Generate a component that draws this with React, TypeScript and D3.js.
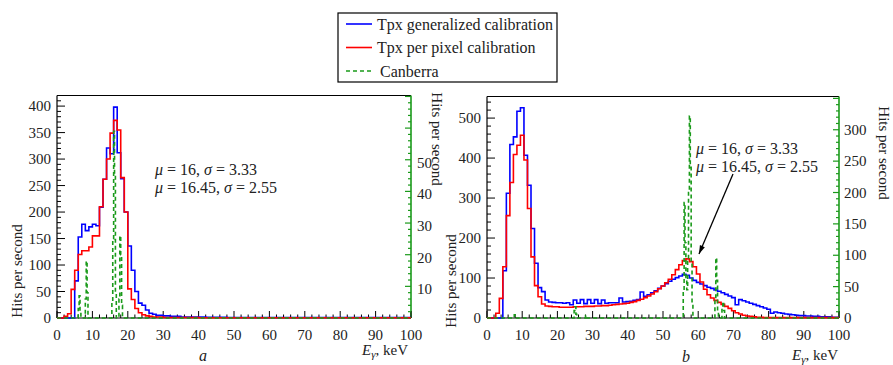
import React from "react";
import * as d3 from "d3";

// ---- panel a: 1 keV bins starting at 0 keV ----
const generalizedA = [
  0, 0, 0, 0, 0, 70, 153, 177, 165, 172, 177, 174, 209, 262, 321, 310, 398, 312, 263, 200,
  136, 90, 50, 28, 24, 15, 9, 7, 5, 5, 4, 4, 3, 3, 3, 2, 2, 2, 2, 2,
  2, 2, 1.5, 1.5, 1.5, 1.5, 1.5, 1.5, 1, 1, 1, 1, 1, 1, 1, 1, 1, 1, 1, 1,
  1, 1, 1, 1, 1, 1, 1, 1, 1, 1, 1, 1, 1, 1, 1, 1, 1, 1, 1, 1,
  1, 1, 1, 1, 1, 1, 1, 1, 1, 1, 1, 1, 1, 1, 1, 1, 1, 1, 1, 1,
];
const perPixelA = [
  0, 0, 3, 8, 54, 90, 120, 127, 127, 134, 155, 155, 210, 262, 300, 349, 373, 355, 265, 200,
  55, 35, 18, 10, 6, 4, 3, 2, 2, 2, 1, 1, 1, 1, 1, 1, 1, 1, 1, 1,
  0.5, 0.5, 0.5, 0.5, 0.5, 0.5, 0.5, 0.5, 0.5, 0.5, 0.5, 0.5, 0.5, 0.5, 0.5, 0.5, 0.5, 0.5, 0.5, 0.5,
  0.5, 0.5, 0.5, 0.5, 0.5, 0.5, 0.5, 0.5, 0.5, 0.5, 0.5, 0.5, 0.5, 0.5, 0.5, 0.5, 0.5, 0.5, 0.5, 0.5,
  0.5, 0.5, 0.5, 0.5, 0.5, 0.5, 0.5, 0.5, 0.5, 0.5, 0.5, 0.5, 0.5, 0.5, 0.5, 0.5, 0.5, 0.5, 0.5, 0.5,
];
// Canberra: 0.25 keV bins, [lower edge keV, hits/s], all other bins empty
const canberraA: [number, number][] = [
  [6.0, 3], [6.25, 7], [6.5, 2],
  [8.0, 6], [8.25, 18], [8.5, 8],
  [15.5, 5], [15.75, 25], [16.0, 59], [16.25, 45], [16.5, 8],
  [17.5, 6], [17.75, 26], [18.0, 20], [18.25, 4],
];

// ---- panel b: 1 keV bins centred on integer keV ----
const generalizedB = [
  0, 0, 0, 0, 0, 118, 312, 434, 453, 517, 526, 407, 332, 224, 137, 76, 66, 45, 40, 39,
  38, 38, 37, 38, 33, 45, 37, 46, 36, 46, 37, 46, 36, 45, 37, 38, 38, 38, 50, 40,
  41, 42, 44, 46, 65, 54, 58, 63, 68, 74, 80, 86, 92, 97, 101, 105, 109, 107, 100, 94,
  89, 85, 81, 77, 74, 70, 67, 63, 59, 55, 51, 33, 46, 43, 40, 37, 34, 31, 28, 25,
  22, 12, 15, 13, 12, 10, 9, 8, 7, 6, 6, 5, 5, 4, 4, 3, 3, 3, 2, 2, 2,
];
const perPixelB = [
  0, 0, 0, 12, 49, 128, 256, 339, 409, 432, 457, 395, 274, 153, 81, 53, 35, 30, 29, 28,
  28, 27, 27, 27, 27, 28, 28, 28, 29, 29, 29, 30, 30, 31, 31, 32, 33, 34, 35, 36,
  37, 39, 41, 44, 47, 51, 55, 60, 66, 73, 80, 88, 97, 108, 121, 133, 144, 148, 141, 128,
  110, 90, 72, 58, 50, 44, 39, 34, 29, 24, 18, 13, 10, 7, 5, 4, 3, 2, 2, 1,
  1, 1, 1, 1, 1, 1, 1, 1, 1, 1, 1, 1, 1, 1, 1, 1, 1, 1, 1, 1, 1,
];
const canberraB: [number, number][] = [
  [7.75, 5],
  [24.75, 12], [25.0, 18], [25.25, 6],
  [28.0, 4],
  [55.75, 40], [56.0, 184], [56.25, 120], [56.5, 60], [56.75, 45], [57.0, 90],
  [57.25, 200], [57.5, 322], [57.75, 240], [58.0, 90], [58.25, 20],
  [64.75, 30], [65.0, 96], [65.25, 60], [65.5, 10],
  [66.75, 15], [67.0, 26], [67.25, 12],
];

const legendItems = [
  { label: "Tpx generalized calibration", color: "#0000ff", dash: "" },
  { label: "Tpx per pixel calibration", color: "#ff0000", dash: "" },
  { label: "Canberra", color: "#1a9a1a", dash: "4,3" },
];

const fitText = [
  { mu: "16", sigma: "3.33" },
  { mu: "16.45", sigma: "2.55" },
];

const FONT = "Liberation Serif, DejaVu Serif, serif";
const GREEN = "#1a9a1a";
const TEXT = "#222";

type PanelProps = {
  id: string;
  left: number;
  right: number;
  top: number;
  bottom: number;
  leftMax: number;
  leftMajor: number;
  leftMinor: number;
  leftLabels: number[];
  leftLabelX: number;
  greenMax: number;
  greenMajor: number;
  greenMinor: number;
  greenLabels: number[];
  greenLabelX: number;
  greenLabelDy: number;
  binStart: number;
  gen: number[];
  pix: number[];
  canberra: [number, number][];
};

function stepPath(vals: number[], start: number, width: number, x: any, y: any) {
  const pts: [number, number][] = vals.map((v, i) => [start + i * width, v]);
  pts.push([start + vals.length * width, vals[vals.length - 1]]);
  return d3
    .line<[number, number]>()
    .x((d) => x(d[0]))
    .y((d) => y(d[1]))
    .curve(d3.curveStepAfter)(pts) as string;
}

function Panel(p: PanelProps) {
  const x = d3.scaleLinear().domain([0, 100]).range([p.left, p.right]);
  const y = d3.scaleLinear().domain([0, p.leftMax]).range([p.bottom, p.top]);
  const yg = d3.scaleLinear().domain([0, p.greenMax]).range([p.bottom, p.top]);

  // dense canberra table from the sparse list
  const lookup = new Map(p.canberra.map(([e, v]) => [Math.round(e / 0.25), v]));
  const canberraDense = d3.range(400).map((i) => lookup.get(i) ?? 0);

  const xMinor = d3.range(0, 101, 2);
  const xMajor = d3.range(0, 101, 10);
  const yMinor = d3.range(0, p.leftMax, p.leftMinor);
  const yMajor = d3.range(0, p.leftMax, p.leftMajor);
  const gMinor = d3.range(0, p.greenMax, p.greenMinor);
  const gMajor = d3.range(0, p.greenMax, p.greenMajor);

  return (
    <g>
      <defs>
        <clipPath id={`clip-${p.id}`}>
          <rect x={p.left} y={p.top} width={p.right - p.left} height={p.bottom - p.top + 1} />
        </clipPath>
      </defs>
      {/* frame */}
      <line x1={p.left} x2={p.right} y1={p.top} y2={p.top} stroke="#000" strokeWidth={1.2} />
      <line x1={p.left} x2={p.left} y1={p.top} y2={p.bottom} stroke="#000" strokeWidth={1.2} />
      <line x1={p.left} x2={p.right} y1={p.bottom} y2={p.bottom} stroke="#000" strokeWidth={1.2} />
      <line x1={p.right} x2={p.right} y1={p.top} y2={p.bottom} stroke={GREEN} strokeWidth={1.6} />

      {/* x ticks */}
      {xMinor.map((t) => (
        <line key={`xm${t}`} x1={x(t)} x2={x(t)} y1={p.bottom} y2={p.bottom - (t % 10 === 0 ? 7 : 3.5)} stroke="#000" strokeWidth={1} />
      ))}
      {xMajor.map((t) => (
        <text key={`xl${t}`} x={x(t)} y={340} textAnchor="middle" fontSize={15} fill={TEXT}>
          {t}
        </text>
      ))}

      {/* left y ticks */}
      {yMinor.map((t) => (
        <line key={`ym${t}`} x1={p.left} x2={p.left + (t % p.leftMajor === 0 ? 8 : 4)} y1={y(t)} y2={y(t)} stroke="#000" strokeWidth={1} />
      ))}
      {yMajor
        .filter((t) => p.leftLabels.includes(t))
        .map((t) => (
          <text key={`yl${t}`} x={p.leftLabelX} y={y(t) + 5} textAnchor="end" fontSize={15} fill={TEXT}>
            {t}
          </text>
        ))}

      {/* right (green) ticks */}
      {gMinor.map((t) => (
        <line key={`gm${t}`} x1={p.right} x2={p.right - (t % p.greenMajor === 0 ? 6 : 3)} y1={yg(t)} y2={yg(t)} stroke={GREEN} strokeWidth={1.2} />
      ))}
      {gMajor
        .filter((t) => p.greenLabels.includes(t))
        .map((t) => (
          <text key={`gl${t}`} x={p.greenLabelX} y={yg(t) + p.greenLabelDy} fontSize={15} fill={TEXT}>
            {t}
          </text>
        ))}

      {/* histograms */}
      <g clipPath={`url(#clip-${p.id})`} fill="none">
        <path d={stepPath(p.gen, p.binStart, 1, x, y)} stroke="#0000ff" strokeWidth={1.6} />
        <path d={stepPath(p.pix, p.binStart, 1, x, y)} stroke="#ff0000" strokeWidth={1.6} />
        <path d={stepPath(canberraDense, 0, 0.25, x, yg)} stroke={GREEN} strokeWidth={1.6} strokeDasharray="4,3" />
      </g>
    </g>
  );
}

function FitLabel({ x, y }: { x: number; y: number }) {
  return (
    <g fontSize={16} fill={TEXT}>
      {fitText.map((f, i) => (
        <text key={i} x={x} y={y + i * 18}>
          <tspan fontStyle="italic">μ</tspan>
          {` = ${f.mu}, `}
          <tspan fontStyle="italic">σ</tspan>
          {` = ${f.sigma}`}
        </text>
      ))}
    </g>
  );
}

function EnergyLabel({ x, y }: { x: number; y: number }) {
  return (
    <text x={x} y={y} textAnchor="end" fontSize={15} fill={TEXT}>
      <tspan fontStyle="italic">E</tspan>
      <tspan fontStyle="italic" fontSize={11} dy={3}>γ</tspan>
      <tspan dy={-3}>, keV</tspan>
    </text>
  );
}

export default function App() {
  // arrow in panel b
  const ax0 = 733, ay0 = 174, ax1 = 699, ay1 = 254;
  const ang = Math.atan2(ay1 - ay0, ax1 - ax0);
  const head = [
    [ax1, ay1],
    [ax1 - 9 * Math.cos(ang - 0.3), ay1 - 9 * Math.sin(ang - 0.3)],
    [ax1 - 9 * Math.cos(ang + 0.3), ay1 - 9 * Math.sin(ang + 0.3)],
  ]
    .map((d) => d.join(","))
    .join(" ");

  return (
    <svg
      width={893}
      height={365}
      style={{ position: "absolute", left: 0, top: 0, background: "#fff", fontFamily: FONT }}
    >
      <rect width={893} height={365} fill="#fff" />

      <Panel
        id="a"
        left={57}
        right={411}
        top={95.5}
        bottom={318}
        leftMax={420}
        leftMajor={50}
        leftMinor={10}
        leftLabels={[0, 50, 100, 150, 200, 250, 300, 350, 400]}
        leftLabelX={51}
        greenMax={70.3}
        greenMajor={10}
        greenMinor={2}
        greenLabels={[10, 20, 30, 40, 50]}
        greenLabelX={417}
        greenLabelDy={8}
        binStart={0}
        gen={generalizedA}
        pix={perPixelA}
        canberra={canberraA}
      />
      <Panel
        id="b"
        left={487}
        right={839}
        top={96.5}
        bottom={318}
        leftMax={554}
        leftMajor={100}
        leftMinor={20}
        leftLabels={[0, 100, 200, 300, 400, 500]}
        leftLabelX={481}
        greenMax={353}
        greenMajor={50}
        greenMinor={10}
        greenLabels={[0, 50, 100, 150, 200, 250, 300]}
        greenLabelX={844}
        greenLabelDy={5}
        binStart={-0.5}
        gen={generalizedB}
        pix={perPixelB}
        canberra={canberraB}
      />

      {/* axis titles */}
      <text transform="translate(22,271) rotate(-90)" textAnchor="middle" fontSize={15} fill={TEXT}>
        Hits per second
      </text>
      <text transform="translate(432,139) rotate(90)" textAnchor="middle" fontSize={15} fill={TEXT}>
        Hits per second
      </text>
      <text transform="translate(456,281) rotate(-90)" textAnchor="middle" fontSize={15} fill={TEXT}>
        Hits per second
      </text>
      <text transform="translate(879,153) rotate(90)" textAnchor="middle" fontSize={15} fill={TEXT}>
        Hits per second
      </text>

      <EnergyLabel x={408} y={355} />
      <EnergyLabel x={838} y={360} />
      <text x={203} y={361} textAnchor="middle" fontSize={16} fontStyle="italic" fill={TEXT}>a</text>
      <text x={686} y={362} textAnchor="middle" fontSize={16} fontStyle="italic" fill={TEXT}>b</text>

      <FitLabel x={155} y={175} />
      <FitLabel x={696} y={154} />

      <line x1={ax0} y1={ay0} x2={ax1} y2={ay1} stroke="#000" strokeWidth={1.3} />
      <polygon points={head} fill="#000" />

      {/* legend */}
      <rect x={338} y={13} width={219} height={69} fill="#fff" stroke="#000" strokeWidth={1.2} />
      {legendItems.map((it, i) => (
        <g key={it.label}>
          <line x1={346} x2={372} y1={24 + i * 23.5} y2={24 + i * 23.5} stroke={it.color} strokeWidth={1.6} strokeDasharray={it.dash} />
          <text x={i === 2 ? 380 : 377} y={29.5 + i * 23.5} fontSize={16} fill={TEXT}>
            {it.label}
          </text>
        </g>
      ))}
    </svg>
  );
}
